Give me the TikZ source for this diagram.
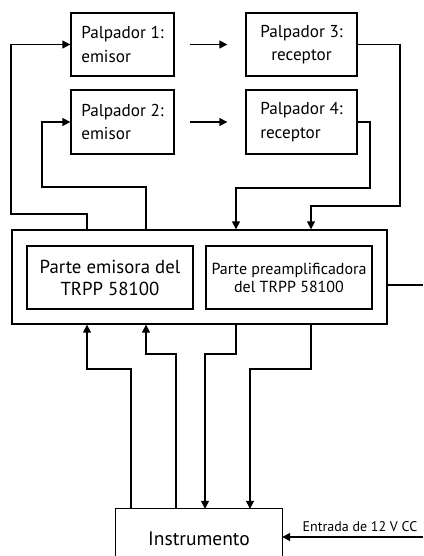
\documentclass[tikz,border=0pt]{standalone}
\usepackage{fontspec}
\setmainfont{PT Sans}
\usetikzlibrary{arrows.meta}
\begin{document}
\begin{tikzpicture}[x=1pt,y=-1pt,
  box/.style={draw,line width=1.3pt,rectangle,inner sep=0pt},
  conn/.style={line width=1.3pt},
  arr/.style={conn,-{Triangle[length=8pt,width=8pt]}},
  ptxt/.style={font=\fontsize{17.2}{23.5}\selectfont,align=left},
]
\useasboundingbox (0,0) rectangle (423,556);
\node[box,ptxt,minimum width=103pt,minimum height=63pt] (P1) at (122.5,44.5) {Palpador 1:\\emisor};
\node[box,ptxt,minimum width=111pt,minimum height=63pt,align=center] (P3) at (301.5,44.5) {Palpador 3:\\receptor};
\node[box,ptxt,minimum width=103pt,minimum height=64pt] (P2) at (122.5,122) {Palpador 2:\\emisor};
\node[box,ptxt,minimum width=111pt,minimum height=64pt] (P4) at (301.5,122) {Palpador 4:\\receptor};
\node[box,minimum width=375pt,minimum height=94pt] (Big) at (199.5,277) {};
\node[box,minimum width=166pt,minimum height=63pt,align=center,font=\fontsize{18.8}{22}\selectfont] (E) at (110,277.5) {Parte emisora del\\TRPP 58100};
\node[box,minimum width=166pt,minimum height=63pt,align=center,font=\fontsize{16}{18}\selectfont] (A) at (289,277.5) {Parte preamplificadora\\del TRPP 58100};
\node[minimum width=166pt,minimum height=60pt,inner sep=0pt,font=\fontsize{19.5}{20}\selectfont] (I) at (199,539) {Instrumento};
\draw[conn] (I.south west) -- (I.north west) -- (I.north east) -- (I.south east);

\draw[arr,shorten <=15pt,shorten >=18pt] (P1) -- (P3);
\draw[arr,shorten <=15pt,shorten >=18pt] (P2) -- (P4);

\draw[arr] ([xshift=-112.5pt]Big.north) |- (11,214) |- (P1.west);
\draw[arr] ([xshift=-53.5pt]Big.north) |- (42,187) |- (P2.west);
\draw[arr] (P4.east) -| (370,188) -| ([xshift=36.5pt]Big.north);
\draw[arr] (P3.east) -| (400,206) -| ([xshift=111.5pt]Big.north);

\coordinate (rout) at (423,285);
\draw[conn] (Big.east |- rout) -- (rout);

\draw[arr] ([xshift=-68pt]I.north) |- (87,369) -- ([xshift=-112.5pt]Big.south);
\draw[arr] ([xshift=-23pt]I.north) |- (146,354) -- ([xshift=-53.5pt]Big.south);
\draw[arr] ([xshift=36.5pt]Big.south) |- (205,354) -- ([xshift=6pt]I.north);
\draw[arr] ([xshift=111.5pt]Big.south) |- (250,369) -- ([xshift=51pt]I.north);

\coordinate (inp) at (423,537);
\draw[arr] (inp) -- (I.east |- inp);
\node[font=\fontsize{14}{16}\selectfont,anchor=base,inner sep=0pt] (lab) at (360,531) {Entrada de 12 V CC};
\end{tikzpicture}
\end{document}
